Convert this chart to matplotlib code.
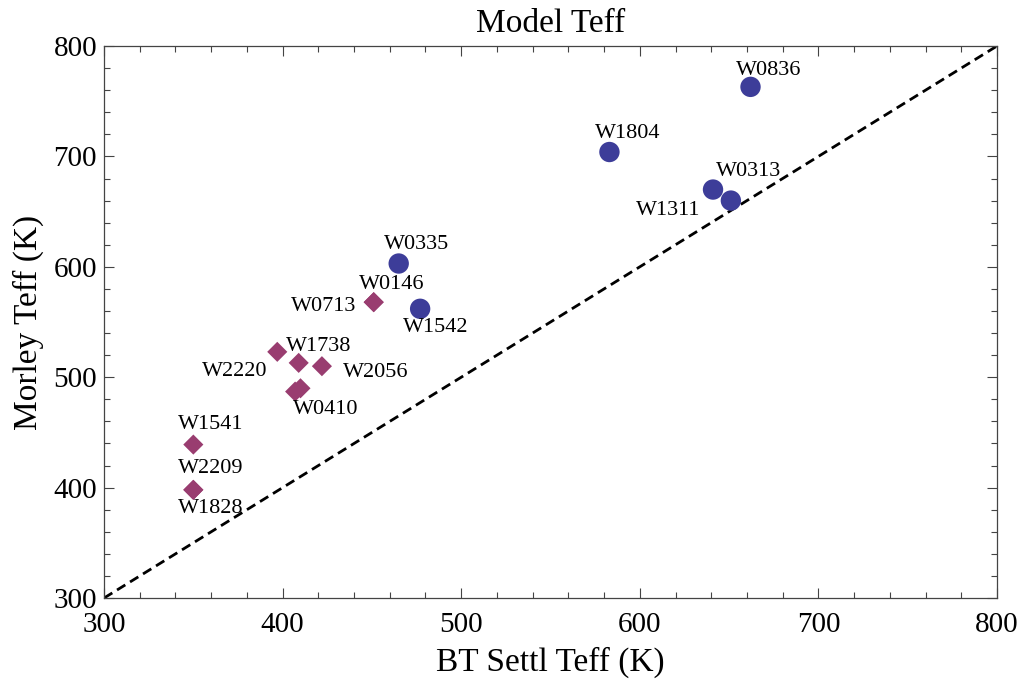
import matplotlib
matplotlib.use("Agg")
import matplotlib.pyplot as plt
from matplotlib.ticker import MultipleLocator

plt.rcParams['font.family'] = ['Liberation Serif', 'DejaVu Serif']

# Objects with BT-Settl vs Morley effective temperatures
circle_names = ["W0836", "W1804", "W0313", "W1311", "W0335", "W1542"]
circle_bt = [662, 583, 641, 651, 465, 477]
circle_morley = [763, 704, 670, 660, 603, 562]

diamond_names = ["W0146", "W0713", "W2220", "W1738", "W2056", "W0410", "W0410",
                 "W1541", "W2209", "W1828"]
diamond_bt = [451, 451, 397, 409, 422, 407, 410, 350, 350, 350]
diamond_morley = [568, 568, 523, 513, 510, 487, 490, 439, 398, 398]

# Label placement (data coordinates) for each name
label_pos = {
    "W0836": (672, 778), "W1804": (593, 721), "W0313": (661, 686),
    "W1311": (616, 651), "W0335": (475, 620), "W1542": (486, 545),
    "W0146": (461, 584), "W0713": (423, 564), "W1738": (420, 528),
    "W2220": (373, 505), "W2056": (452, 504), "W0410": (424, 471),
    "W1541": (360, 457), "W2209": (360, 417), "W1828": (360, 381),
}

circle_color = "#3d3d99"
diamond_color = "#993d70"

fig = plt.figure(figsize=(10.26, 6.87), dpi=100)
ax = fig.add_axes([0.1014, 0.1295, 0.8703, 0.8035])

ax.plot([300, 800], [300, 800], color="black", lw=2.0, ls=(0, (3.5, 2.0)), zorder=1)

ax.scatter(diamond_bt, diamond_morley, marker="D", s=105, color=diamond_color,
           edgecolors="none", zorder=3)
ax.scatter(circle_bt, circle_morley, marker="o", s=215, color=circle_color,
           edgecolors="none", zorder=3)

for name, (lx, ly) in label_pos.items():
    ax.text(lx, ly, name, fontsize=16, ha="center", va="center", zorder=4)

ax.set_xlim(300, 800)
ax.set_ylim(300, 800)
ax.xaxis.set_major_locator(MultipleLocator(100))
ax.xaxis.set_minor_locator(MultipleLocator(20))
ax.yaxis.set_major_locator(MultipleLocator(100))
ax.yaxis.set_minor_locator(MultipleLocator(20))
ax.tick_params(which="both", direction="in", top=True, right=True,
               color="#444444", width=0.8)
ax.tick_params(which="major", length=7, labelsize=21)
ax.tick_params(axis="x", which="major", pad=10)
ax.tick_params(axis="y", which="major", pad=5)
ax.tick_params(which="minor", length=4)
for sp in ax.spines.values():
    sp.set_color("#444444")
    sp.set_linewidth(0.9)

ax.set_xlabel("BT Settl Teff (K)", fontsize=24, labelpad=6)
ax.set_ylabel("Morley Teff (K)", fontsize=24, labelpad=7)
ax.set_title("Model Teff", fontsize=24, pad=10)

fig.savefig("out.png", dpi=100)
